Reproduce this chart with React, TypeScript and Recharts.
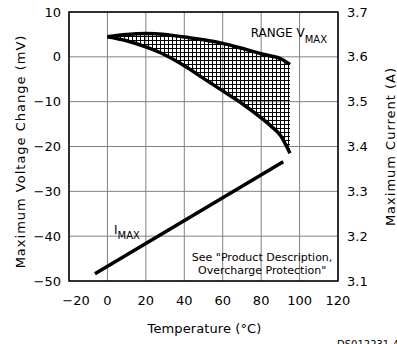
import React from "react";
import {
  ComposedChart,
  Area,
  Line,
  XAxis,
  YAxis,
  CartesianGrid,
  ReferenceArea,
  ReferenceDot,
  Label,
} from "recharts";

// Temperature (°C) for the V_MAX range band
const tempV = [0, 10, 20, 30, 40, 50, 60, 70, 80, 85, 90, 95];
// upper edge of the V_MAX range (mV)
const upperV = [4.5, 5.0, 5.2, 5.0, 4.4, 3.8, 3.0, 1.9, 0.7, 0.2, -0.4, -1.7];
// lower edge of the V_MAX range (mV)
const lowerV = [4.5, 3.6, 2.2, 0.4, -2.0, -4.8, -7.6, -10.4, -13.6, -15.4, -17.5, -21.5];

// I_MAX line (A)
const tempI = [-6.5, 91.5];
const currentI = [3.116, 3.366];

const xTicks = [-20, 0, 20, 40, 60, 80, 100, 120];
const vTicks = [-50, -40, -30, -20, -10, 0, 10];
const iTicks = [3.1, 3.2, 3.3, 3.4, 3.5, 3.6, 3.7];

const rangeData = tempV.map((t, i) => ({ t, range: [lowerV[i], upperV[i]] }));
const imaxData = tempI.map((t, i) => ({ t, current: currentI[i] }));

const FONT = "'DejaVu Sans', sans-serif";
const fmtMinus = (v: number) => String(v).replace("-", "\u2212");

const tickStyle = { fill: "#000", fontSize: 13, fontFamily: FONT };

const XTick = (p: any) => {
  const v = p.payload.value;
  const shift = v === xTicks[0] ? 7 : 0;
  return (
    <text
      x={p.x + shift}
      y={p.y}
      dy="0.71em"
      textAnchor="middle"
      fontSize={13}
      fontFamily={FONT}
      fill="#000"
    >
      {fmtMinus(v)}
    </text>
  );
};

export default function App() {
  return (
    <div style={{ position: "absolute", left: 0, top: 0, fontFamily: FONT }}>
      <ComposedChart
        width={397}
        height={344}
        margin={{ top: 12, right: 0, bottom: 0, left: 0 }}
        style={{ fontFamily: FONT }}
      >
        <defs>
          <pattern id="hatch" width="4" height="4" patternUnits="userSpaceOnUse">
            <path d="M0 0.5H4M0.5 0V4" stroke="#000" strokeWidth={1} />
          </pattern>
        </defs>
        <CartesianGrid
          yAxisId="left"
          stroke="#808080"
          strokeWidth={1}
          horizontal
          vertical
        />
        <XAxis
          dataKey="t"
          type="number"
          domain={[-20, 120]}
          ticks={xTicks}
          allowDataOverflow
          height={63}
          tickSize={0}
          tickMargin={15}
          axisLine={false}
          tickLine={false}
          tick={<XTick />}
        >
          <Label
            content={(p: any) => {
              const vb = p.viewBox;
              return (
                <text
                  x={vb.x + vb.width / 2 + 1}
                  y={vb.y + 52}
                  textAnchor="middle"
                  fontSize={13}
                  fontFamily={FONT}
                  fill="#000"
                  letterSpacing={0.1}
                >
                  Temperature (°C)
                </text>
              );
            }}
          />
          <Label
            content={(p: any) => {
              const vb = p.viewBox;
              return (
                <text
                  x={vb.x + vb.width - 1}
                  y={vb.y + 67}
                  textAnchor="start"
                  fontSize={10}
                  fontFamily={FONT}
                  fill="#000"
                >
                  DS012231-4
                </text>
              );
            }}
          />
        </XAxis>
        <YAxis
          yAxisId="left"
          orientation="left"
          type="number"
          domain={[-50, 10]}
          ticks={vTicks}
          width={69}
          tickSize={0}
          tickMargin={8}
          axisLine={false}
          tickLine={false}
          tick={tickStyle}
          tickFormatter={fmtMinus}
        >
          <Label
            content={(p: any) => {
              const vb = p.viewBox;
              const cx = vb.x + 25;
              const cy = vb.y + vb.height / 2 + 5;
              return (
                <text
                  x={cx}
                  y={cy}
                  transform={`rotate(-90, ${cx}, ${cy})`}
                  textAnchor="middle"
                  fontSize={13}
                  fontFamily={FONT}
                  fill="#000"
                  letterSpacing={1}
                >
                  Maximum Voltage Change (mV)
                </text>
              );
            }}
          />
        </YAxis>
        <YAxis
          yAxisId="right"
          orientation="right"
          type="number"
          domain={[3.1, 3.7]}
          ticks={iTicks}
          width={59}
          tickSize={0}
          tickMargin={9}
          axisLine={false}
          tickLine={false}
          tick={tickStyle}
          tickFormatter={(v: number) => v.toFixed(1)}
        >
          <Label
            content={(p: any) => {
              const vb = p.viewBox;
              const cx = vb.x + 57;
              const cy = vb.y + vb.height / 2;
              return (
                <text
                  x={cx}
                  y={cy}
                  transform={`rotate(-90, ${cx}, ${cy})`}
                  textAnchor="middle"
                  fontSize={13}
                  fontFamily={FONT}
                  fill="#000"
                  letterSpacing={1}
                >
                  Maximum Current (A)
                </text>
              );
            }}
          />
        </YAxis>
        <ReferenceArea
          yAxisId="left"
          x1={-20}
          x2={120}
          y1={-50}
          y2={10}
          fill="none"
          fillOpacity={0}
          stroke="#000"
          strokeWidth={1.5}
          ifOverflow="visible"
        />
        <Area
          yAxisId="left"
          data={rangeData}
          dataKey="range"
          type="monotone"
          stroke="#000"
          strokeWidth={3.5}
          fill="url(#hatch)"
          fillOpacity={1}
          dot={false}
          activeDot={false}
          isAnimationActive={false}
        />
        <Line
          yAxisId="right"
          data={imaxData}
          dataKey="current"
          type="linear"
          stroke="#000"
          strokeWidth={3.5}
          dot={false}
          activeDot={false}
          isAnimationActive={false}
        />
        <ReferenceDot
          yAxisId="left"
          x={74.6}
          y={4.35}
          ifOverflow="visible"
          shape={(p: any) => (
            <text x={p.cx} y={p.cy} fontSize={12} fontFamily={FONT} fill="#000">
              RANGE V
              <tspan fontSize={10} dy={6}>MAX</tspan>
            </text>
          )}
        />
        <ReferenceDot
          yAxisId="left"
          x={3.4}
          y={-39.5}
          ifOverflow="visible"
          shape={(p: any) => (
            <text x={p.cx} y={p.cy} fontSize={12} fontFamily={FONT} fill="#000">
              I
              <tspan fontSize={10} dy={5.5}>MAX</tspan>
            </text>
          )}
        />
        <ReferenceDot
          yAxisId="left"
          x={80.5}
          y={-45.5}
          ifOverflow="visible"
          shape={(p: any) => (
            <text
              x={p.cx}
              y={p.cy}
              textAnchor="middle"
              fontSize={11}
              fontFamily={FONT}
              fill="#000"
            >
              See "Product Description,
              <tspan x={p.cx} dy={13.3}>Overcharge Protection"</tspan>
            </text>
          )}
        />
      </ComposedChart>
    </div>
  );
}
